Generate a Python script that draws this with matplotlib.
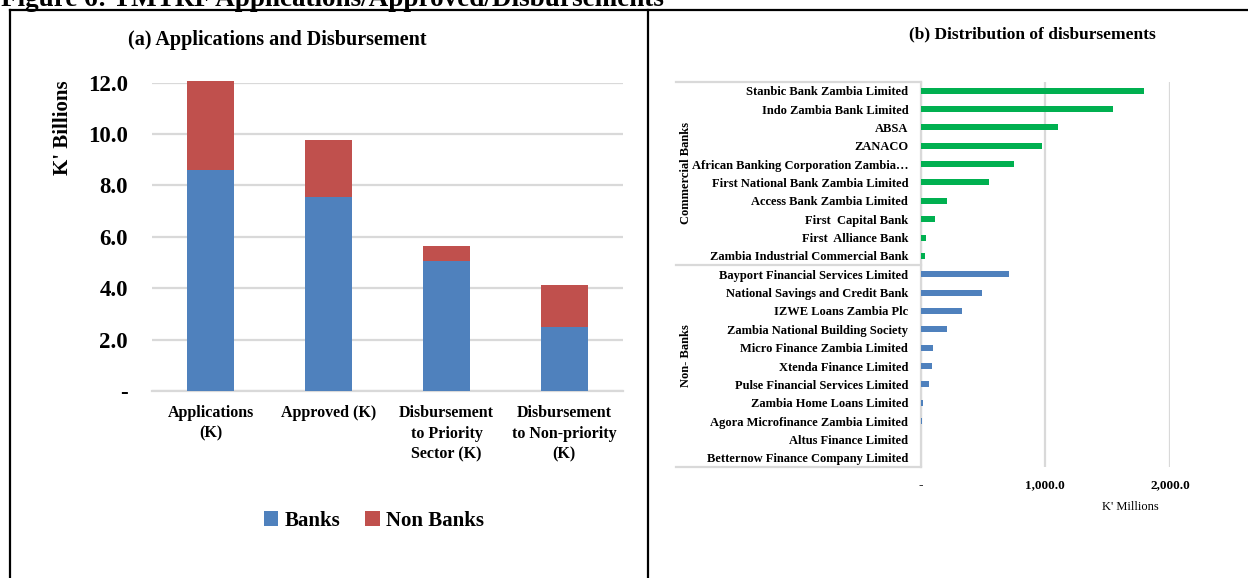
import matplotlib
matplotlib.use('Agg')
import matplotlib.pyplot as plt
from matplotlib.lines import Line2D
from matplotlib.ticker import FuncFormatter

# Panel (a) data, K' billions
stages = ['Applications\n(K)', 'Approved (K)', 'Disbursement\nto Priority\nSector (K)',
          'Disbursement\nto Non-priority\n(K)']
banks = [8.61, 7.54, 5.07, 2.48]
non_banks = [3.44, 2.24, 0.56, 1.63]

# Panel (b) data, K' millions
commercial_banks = ['Stanbic Bank Zambia Limited', 'Indo Zambia Bank Limited', 'ABSA', 'ZANACO',
                    'African Banking Corporation Zambia\u2026', 'First National Bank Zambia Limited',
                    'Access Bank Zambia Limited', 'First  Capital Bank', 'First  Alliance Bank',
                    'Zambia Industrial Commercial Bank']
commercial_values = [1791, 1543, 1099, 973, 749, 548, 211, 115, 43, 35]
non_bank_names = ['Bayport Financial Services Limited', 'National Savings and Credit Bank',
                  'IZWE Loans Zambia Plc', 'Zambia National Building Society',
                  'Micro Finance Zambia Limited', 'Xtenda Finance Limited',
                  'Pulse Financial Services Limited', 'Zambia Home Loans Limited',
                  'Agora Microfinance Zambia Limited', 'Altus Finance Limited',
                  'Betternow Finance Company Limited']
non_bank_values = [706, 495, 329, 214, 96, 91, 67, 16, 8, 1, 0]

blue = '#4F81BD'
red = '#C0504D'
green = '#00B050'
grid = '#D9D9D9'
serif = 'Liberation Serif'

W, H = 1248, 578
fig = plt.figure(figsize=(W / 100, H / 100), dpi=100)
plt.rcParams['font.family'] = serif

# figure caption (cut off at the top in the source)
fig.text(0.001, 1 - 6 / H, 'Figure 6: TMTRF Applications/Approved/Disbursements',
         fontsize=19.5, fontweight='bold', va='baseline', ha='left')

# table borders
for x0, y0, x1, y1 in [(10, 10, W, 10), (10, 10, 10, H), (648, 10, 648, H)]:
    fig.add_artist(Line2D([x0 / W, x1 / W], [1 - y0 / H, 1 - y1 / H],
                          transform=fig.transFigure, color='black', lw=1.6))

# ---- (a) stacked columns
ax = fig.add_axes([151.7 / W, 1 - 391 / H, 471.6 / W, 308.3 / H])
x = list(range(len(stages)))
ax.bar(x, banks, width=0.4, color=blue, label='Banks', zorder=3, clip_on=False)
ax.bar(x, non_banks, width=0.4, bottom=banks, color=red, label='Non Banks', zorder=3,
       clip_on=False)
ax.set_xlim(-0.5, 3.5)
ax.set_ylim(0, 12)
ax.set_yticks([0, 2, 4, 6, 8, 10, 12])
ax.yaxis.set_major_formatter(FuncFormatter(lambda v, p: '-' if v == 0 else f'{v:.1f}'))
ax.set_xticks(x)
ax.set_xticklabels(stages, fontsize=11.5, fontweight='bold', linespacing=1.4)
for lab in ax.get_yticklabels():
    lab.set_fontsize(16.5)
    lab.set_fontweight('bold')
ax.tick_params(axis='y', length=0, pad=17)
ax.tick_params(axis='x', length=0, pad=10)
ax.grid(axis='y', color=grid, lw=1.6, zorder=0)
for s in ['left', 'right', 'top']:
    ax.spines[s].set_visible(False)
ax.spines['bottom'].set_color(grid)
ax.spines['bottom'].set_linewidth(1.6)
ax.set_ylabel("K' Billions", fontsize=15, fontweight='bold', va='center')
ax.yaxis.set_label_coords((62.7 - 151.7) / 471.6, (391 - 128) / 308.3)
ax.set_title('(a) Applications and Disbursement', fontsize=14.5, fontweight='bold',
             x=(277.5 - 151.7) / 471.6, y=(391 - 40) / 308.3, va='center', pad=0)
ax.legend(loc='center', bbox_to_anchor=((374 - 151.7) / 471.6, (391 - 521) / 308.3),
          ncol=2, frameon=False, handlelength=0.7, handleheight=0.7, handletextpad=0.3,
          columnspacing=1.2, prop={'family': serif, 'weight': 'bold', 'size': 15})

# ---- (b) horizontal bars
bx = fig.add_axes([920.7 / W, 1 - 467 / H, 249.3 / W, 385.5 / H])
names = commercial_banks + non_bank_names
values = commercial_values + non_bank_values
colors = [green] * len(commercial_banks) + [blue] * len(non_bank_names)
y = list(range(len(names)))
bx.barh(y, values, height=0.33, color=colors, zorder=3)
bx.set_ylim(len(names) - 0.5, -0.5)
bx.set_xlim(0, 2000)
bx.set_yticks(y)
bx.set_yticklabels(names, fontsize=9, fontweight='bold')
bx.set_xticks([0, 1000, 2000])
bx.xaxis.set_major_formatter(FuncFormatter(lambda v, p: '-' if v == 0 else f'{v:,.1f}'))
for lab in bx.get_xticklabels():
    lab.set_fontsize(9.5)
    lab.set_fontweight('bold')
bx.tick_params(axis='y', length=0, pad=9)
bx.tick_params(axis='x', length=0, pad=9)
bx.grid(axis='x', color=grid, lw=1.6, zorder=0)
for s in ['right', 'top', 'bottom']:
    bx.spines[s].set_visible(False)
bx.spines['left'].set_color(grid)
bx.spines['left'].set_linewidth(1.6)
bx.set_xlabel("K' Millions", fontsize=9, va='center')
bx.xaxis.set_label_coords((1130 - 920.7) / 249.3, (467 - 507) / 385.5)
bx.set_title('(b) Distribution of disbursements', fontsize=12.5, fontweight='bold',
             x=(1032 - 920.7) / 249.3, y=(467 - 34) / 385.5, va='center', pad=0)

# group box lines and group labels on the category axis
x_left = (676 - 920.7) / 249.3
split = 1 - len(commercial_banks) / len(names)
for yy in [1, split, 0]:
    bx.plot([x_left, 0], [yy, yy], transform=bx.transAxes, color=grid, lw=1.6, clip_on=False)
bx.text((686 - 920.7) / 249.3, (467 - 173) / 385.5, 'Commercial Banks', transform=bx.transAxes,
        rotation=90, ha='center', va='center', fontsize=9, fontweight='bold')
bx.text((686 - 920.7) / 249.3, (467 - 356) / 385.5, 'Non- Banks', transform=bx.transAxes,
        rotation=90, ha='center', va='center', fontsize=9, fontweight='bold')

fig.savefig('out.png', dpi=100)
